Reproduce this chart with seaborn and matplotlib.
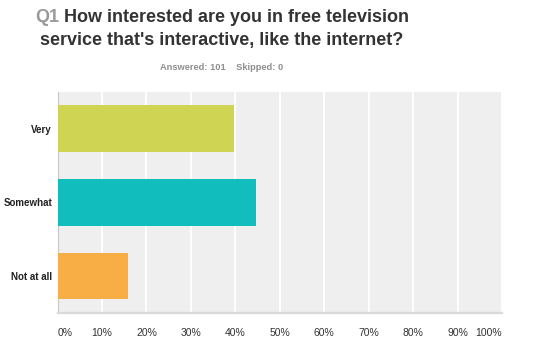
import matplotlib
matplotlib.use('Agg')
import matplotlib.pyplot as plt
import seaborn as sns
import pandas as pd

# data
answers = ['Very', 'Somewhat', 'Not at all']
percent = [39.60, 44.55, 15.84]
bar_colors = ['#cfd452', '#12bdbd', '#f9ae45']
x_ticks = [0, 10, 20, 30, 40, 50, 60, 70, 80, 90, 100]
x_tick_labels = ['%d%%' % t for t in x_ticks]

df = pd.DataFrame({'answer': answers, 'percent': percent})

sns.set_style('white')
plt.rcParams['font.family'] = ['Liberation Sans', 'DejaVu Sans']

W, H = 535, 352
fig = plt.figure(figsize=(W / 100, H / 100), dpi=100)
ax = fig.add_axes([57.5 / W, 1 - 313 / H, (502 - 57.5) / W, (313 - 91.7) / H])

sns.barplot(data=df, y='answer', x='percent', hue='answer', palette=bar_colors,
            orient='h', width=0.63, legend=False, saturation=1, linewidth=0,
            ax=ax, zorder=3)

ax.set_facecolor('#efefef')
ax.set_xlim(0, 100)
ax.set_ylim(2.5, -0.5)
ax.set_xticks(x_ticks)
ax.set_xticklabels(x_tick_labels)
ax.xaxis.grid(True, color='white', linewidth=1.3, zorder=1)
ax.set_axisbelow(True)
ax.set_xlabel('')
ax.set_ylabel('')
ax.tick_params(axis='x', length=0, pad=11, labelsize=7.5, labelcolor='#333333')
ax.tick_params(axis='y', length=0, pad=4, labelsize=7, labelcolor='#222222')
for lab in ax.get_yticklabels():
    lab.set_fontweight('bold')
xl = ax.get_xticklabels()
xl[0].set_horizontalalignment('left')
xl[-1].set_horizontalalignment('right')

for s in ['top', 'right']:
    ax.spines[s].set_visible(False)
ax.spines['bottom'].set_color('#d9d9d9')
ax.spines['bottom'].set_linewidth(1.6)
ax.spines['left'].set_color('#c8c8c8')
ax.spines['left'].set_linewidth(0.8)

# title
cx = 222 / W
tsize = 13
line1 = 'Q1 How interested are you in free television'
fig.canvas.draw()
r = fig.canvas.get_renderer()
t_full = fig.text(0, 0, line1, fontsize=tsize, fontweight='bold')
t_q = fig.text(0, 0, 'Q1 ', fontsize=tsize, fontweight='bold')
w_full = t_full.get_window_extent(r).width
w_q = t_q.get_window_extent(r).width
t_full.remove()
t_q.remove()
left = 222 - w_full / 2
fig.text(left / W, 1 - 22 / H, 'Q1', fontsize=tsize, fontweight='bold', color='#9a9a9a', va='baseline')
fig.text((left + w_q) / W, 1 - 22 / H, 'How interested are you in free television',
         fontsize=tsize, fontweight='bold', color='#333333', va='baseline')
fig.text(cx, 1 - 45 / H, "service that's interactive, like the internet?",
         fontsize=tsize, fontweight='bold', color='#333333', va='baseline', ha='center')
fig.text(cx, 1 - 68 / H, 'Answered: 101    Skipped: 0', fontsize=6.7, fontweight='bold',
         color='#8f8f8f', va='center', ha='center')

fig.savefig('out.png', dpi=100)
